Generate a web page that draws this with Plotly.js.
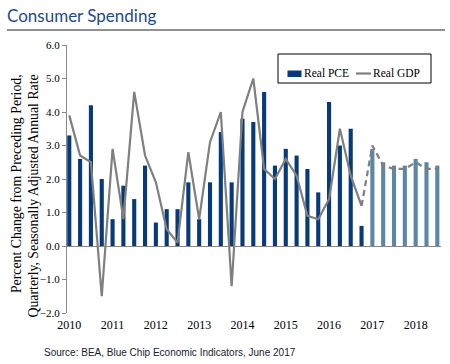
<!DOCTYPE html>
<html>
<head>
<meta charset="utf-8">
<script src="https://cdn.plot.ly/plotly-3.0.1.min.js"></script>
<style>html,body{margin:0;padding:0;background:#fff;}#chart{width:450px;height:364px;}</style>
</head>
<body>
<div id="chart"></div>
<script>
// Quarter index 0 = 2010 Q2 ... 34 = 2018 Q4
const yearLabels = ["2010","2011","2012","2013","2014","2015","2016","2017","2018"];
const yearTickIdx = [0,4,8,12,16,20,24,28,32];

// Actual Real PCE (indices 0..27)
const pceActual = [3.3,2.6,4.2,2.0,0.8,1.8,1.4,2.4,0.7,1.1,1.1,1.9,0.8,1.9,3.4,1.9,3.8,3.7,4.6,2.4,2.9,2.7,2.3,1.6,4.3,3.0,3.5,0.6];
// Forecast Real PCE (indices 28..34)
const pceForecast = [2.9,2.5,2.4,2.4,2.6,2.5,2.4];

// Actual Real GDP (indices 0..27)
const gdpActual = [3.9,2.7,2.5,-1.5,2.9,0.8,4.6,2.7,1.9,0.5,0.1,2.8,0.8,3.1,4.0,-1.2,4.0,5.0,2.3,2.0,2.6,2.1,0.9,0.8,1.4,3.5,2.1,1.2];
// Forecast Real GDP (indices 27..34, starting from last actual)
const gdpForecast = [1.2,3.0,2.4,2.3,2.3,2.5,2.3,2.3];

const idxActual = pceActual.map((_, i) => i);
const idxForecast = pceForecast.map((_, i) => i + pceActual.length);
const idxGdpForecast = gdpForecast.map((_, i) => i + gdpActual.length - 1);

const navy = "#073a7a";
const steel = "#5b87a6";
const grey = "#7f7f7f";
const serif = "Liberation Serif, Times New Roman, serif";

// plot area geometry (pixels) for paper-coordinate helpers
const L = 67, R = 441, T = 45, B = 313;
const px = v => (v - L) / (R - L);
const py = v => (B - v) / (B - T);

const traces = [
  {type:"bar", x: idxActual, y: pceActual, name:"Real PCE", width:0.38, marker:{color:navy}},
  {type:"bar", x: idxForecast, y: pceForecast, name:"Real PCE forecast", width:0.38, marker:{color:steel}},
  {type:"scatter", mode:"lines", x: idxActual, y: gdpActual, name:"Real GDP", line:{color:grey, width:2.2}},
  {type:"scatter", mode:"lines", x: idxGdpForecast, y: gdpForecast, name:"Real GDP forecast",
   line:{color:grey, width:2.2, dash:"6px,4px"}}
];

const layout = {
  width:450, height:364,
  margin:{l:L, r:450-R, t:T, b:364-B},
  paper_bgcolor:"#fff", plot_bgcolor:"#fff",
  barmode:"overlay",
  showlegend:false,
  title:{text:"Consumer Spending", x:7/450, xanchor:"left", xref:"container", y:1-16/364, yanchor:"middle", yref:"container",
    font:{family:"Lato, Open Sans, sans-serif", size:17, color:"#1d4b8a"}},
  xaxis:{range:[-0.21,34.34], tickmode:"array", tickvals:yearTickIdx, ticktext:yearLabels,
    showline:false, showgrid:false, zeroline:false, ticks:"", automargin:false, ticklabelstandoff:3,
    tickfont:{family:serif, size:12, color:"#000"}},
  yaxis:{range:[-2,6], dtick:1, tick0:0, tickformat:".1f", showgrid:false, automargin:false,
    showline:true, linecolor:"#888", linewidth:1, ticks:"outside", ticklen:4, tickcolor:"#888",
    zeroline:true, zerolinecolor:"#888", zerolinewidth:1,
    tickfont:{family:serif, size:11, color:"#000"}},
  shapes:[
    {type:"line", xref:"paper", yref:"paper", x0:px(7), x1:px(445), y0:py(30), y1:py(30), line:{color:"#6b6b6b", width:1.5}},
    // legend box
    {type:"rect", xref:"paper", yref:"paper", x0:px(278), x1:px(431), y0:py(54), y1:py(83), line:{color:"#000", width:1}, fillcolor:"#fff"},
    {type:"rect", xref:"paper", yref:"paper", x0:px(287.5), x1:px(301.5), y0:py(70.5), y1:py(77), line:{width:0}, fillcolor:navy},
    {type:"line", xref:"paper", yref:"paper", x0:px(356), x1:px(371), y0:py(73.5), y1:py(73.5), line:{color:grey, width:2.2}}
  ],
  annotations:[
    {text:"Percent Change from Preceding Period,<br>Quarterly, Seasonally Adjusted Annual Rate", xref:"paper", yref:"paper",
      x:px(24.5), y:py(196), xanchor:"center", yanchor:"middle", textangle:-90, showarrow:false, align:"right",
      font:{family:serif, size:13.8, color:"#000"}},
    {text:"Real PCE", xref:"paper", yref:"paper", x:px(302), y:py(73), xanchor:"left", yanchor:"middle", showarrow:false,
      font:{family:serif, size:11.5, color:"#000"}},
    {text:"Real GDP", xref:"paper", yref:"paper", x:px(371), y:py(73), xanchor:"left", yanchor:"middle", showarrow:false,
      font:{family:serif, size:11.5, color:"#000"}},
    {text:"Source: BEA, Blue Chip Economic Indicators, June 2017", xref:"paper", yref:"paper",
      x:px(42), y:py(352), xanchor:"left", yanchor:"middle", showarrow:false,
      font:{family:"Liberation Sans, Arial, sans-serif", size:10, color:"#1a1a2e"}}
  ]
};

Plotly.newPlot("chart", traces, layout, {displayModeBar:false, staticPlot:true});
</script>
</body>
</html>
